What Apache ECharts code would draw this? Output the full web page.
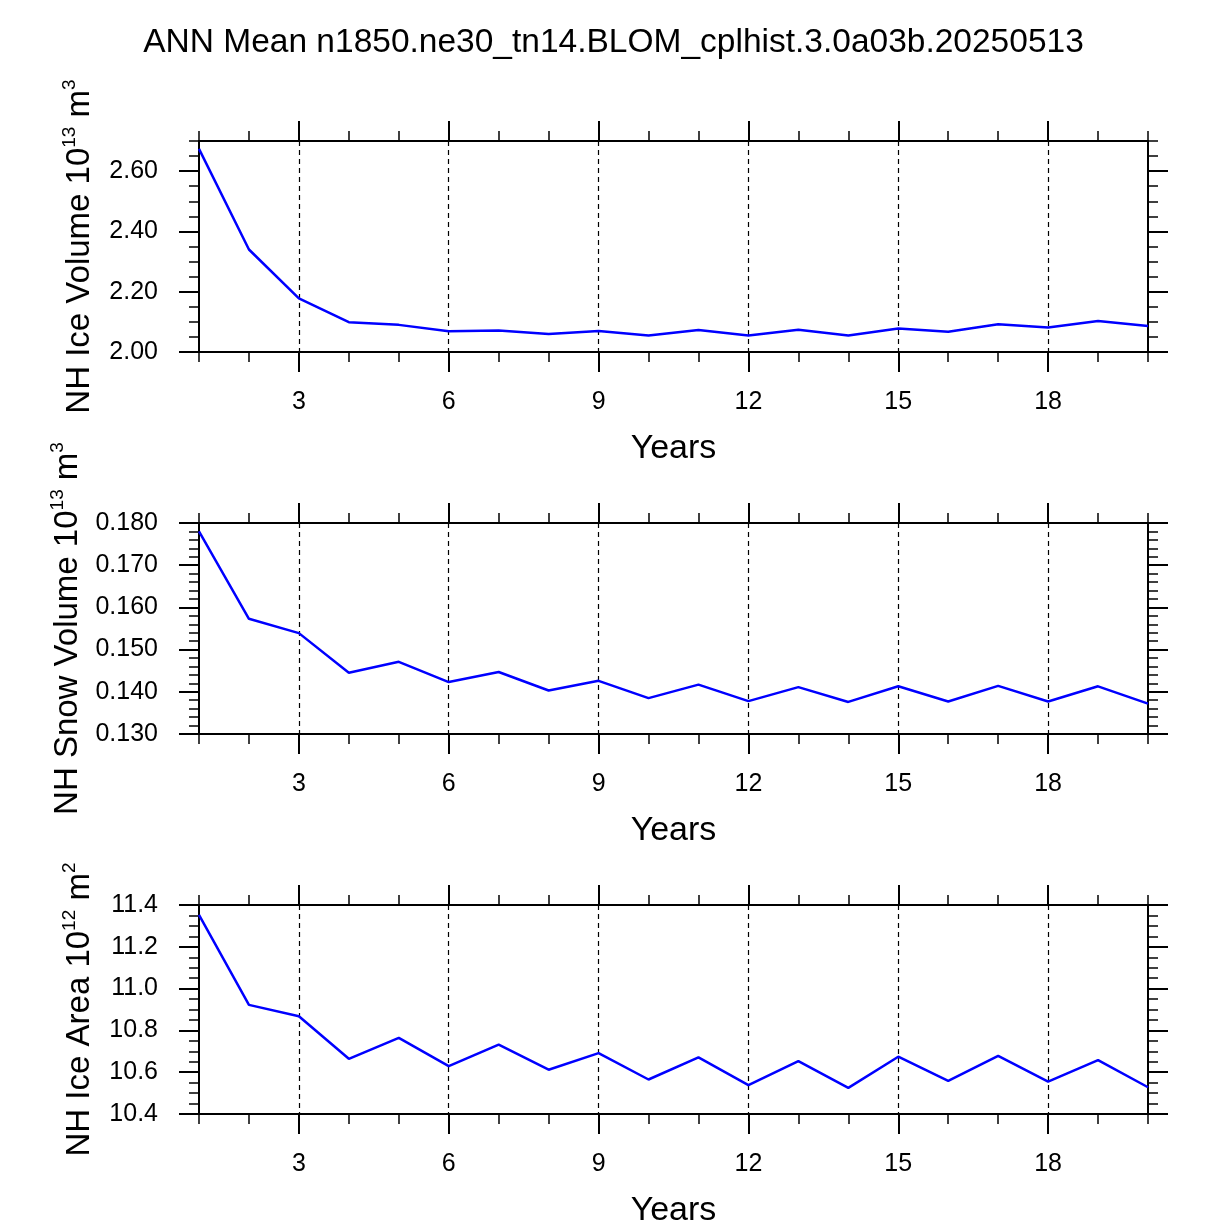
<!DOCTYPE html>
<html><head><meta charset="utf-8">
<script src="https://cdn.jsdelivr.net/npm/echarts@6/dist/echarts.min.js"></script>
<style>html,body{margin:0;padding:0;background:#fff}#c{width:1227px;height:1229px}</style>
</head><body><div id="c"></div><script>
const years = [1,2,3,4,5,6,7,8,9,10,11,12,13,14,15,16,17,18,19,20];
const iceVolume = [2.674,2.340,2.178,2.099,2.090,2.069,2.071,2.060,2.070,2.055,2.073,2.055,2.074,2.055,2.078,2.067,2.092,2.081,2.103,2.086];
const snowVolume = [0.1780,0.1573,0.1539,0.1445,0.1471,0.1423,0.1447,0.1403,0.1426,0.1385,0.1417,0.1378,0.1411,0.1376,0.1413,0.1377,0.1414,0.1377,0.1413,0.1372];
const iceArea = [11.353,10.922,10.868,10.664,10.764,10.629,10.732,10.612,10.691,10.565,10.671,10.538,10.653,10.525,10.674,10.558,10.678,10.555,10.658,10.528];
const xMajorTicks = [3,6,9,12,15,18];
const iceVolumeTicks = [2.0,2.2,2.4,2.6];
const snowVolumeTicks = [0.13,0.14,0.15,0.16,0.17,0.18];
const iceAreaTicks = [10.4,10.6,10.8,11.0,11.2,11.4];
const titleText = 'ANN Mean n1850.ne30_tn14.BLOM_cplhist.3.0a03b.20250513';

const FF = 'Liberation Sans';
const panels = [
  {data: iceVolume, min: 2.0, max: 2.7, majors: iceVolumeTicks, minor: 0.05, digits: 2,
   name: '{a|NH Ice Volume 10}{s|13}{a| m}{s|3}', top: 141, nameGap: 103},
  {data: snowVolume, min: 0.13, max: 0.18, majors: snowVolumeTicks, minor: 0.002, digits: 3,
   name: '{a|NH Snow Volume 10}{s|13}{a| m}{s|3}', top: 523, nameGap: 115},
  {data: iceArea, min: 10.4, max: 11.4, majors: iceAreaTicks, minor: 0.05, digits: 1,
   name: '{a|NH Ice Area 10}{s|12}{a| m}{s|2}', top: 905, nameGap: 103}
];

const black = '#000';
const grids = [], xAxes = [], yAxes = [], series = [];
panels.forEach((p, gi) => {
  grids.push({left: 199, width: 949, top: p.top, height: 211, containLabel: false});
  const xBase = {gridIndex: gi, type: 'value', min: 1, max: 20, splitLine: {show: false}};
  xAxes.push(Object.assign({}, xBase, {
    position: 'bottom',
    axisLine: {show: true, onZero: false, lineStyle: {color: black, width: 2}},
    axisTick: {show: true, inside: false, length: 20, customValues: xMajorTicks, lineStyle: {color: black, width: 2}},
    axisLabel: {show: true, customValues: xMajorTicks, margin: 38, fontSize: 25, color: black, fontFamily: FF},
    splitLine: {show: true, lineStyle: {color: black, width: 1.2, type: [5, 4]}},
    name: 'Years', nameLocation: 'middle', nameGap: 80,
    nameTextStyle: {fontSize: 34, color: black, fontFamily: FF}
  }));
  xAxes.push(Object.assign({}, xBase, {
    position: 'bottom', interval: 1,
    axisLine: {show: false, onZero: false},
    axisTick: {show: true, inside: false, length: 10, lineStyle: {color: black, width: 1.5}},
    axisLabel: {show: false}
  }));
  xAxes.push(Object.assign({}, xBase, {
    position: 'top',
    axisLine: {show: true, onZero: false, lineStyle: {color: black, width: 2}},
    axisTick: {show: true, inside: false, length: 20, customValues: xMajorTicks, lineStyle: {color: black, width: 2}},
    axisLabel: {show: false}
  }));
  xAxes.push(Object.assign({}, xBase, {
    position: 'top', interval: 1,
    axisLine: {show: false, onZero: false},
    axisTick: {show: true, inside: false, length: 10, lineStyle: {color: black, width: 1.5}},
    axisLabel: {show: false}
  }));

  const yBase = {gridIndex: gi, type: 'value', min: p.min, max: p.max, splitLine: {show: false}};
  yAxes.push(Object.assign({}, yBase, {
    position: 'left',
    axisLine: {show: true, onZero: false, lineStyle: {color: black, width: 2}},
    axisTick: {show: true, inside: false, length: 20, customValues: p.majors, lineStyle: {color: black, width: 2}},
    axisLabel: {show: true, customValues: p.majors, margin: 41, fontSize: 25, color: black, fontFamily: FF,
      formatter: v => Number(v).toFixed(p.digits)},
    name: p.name, nameLocation: 'middle', nameRotate: 90, nameGap: p.nameGap,
    nameTextStyle: {color: black, fontFamily: FF, rich: {
      a: {fontSize: 33, color: black, fontFamily: FF, lineHeight: 36, verticalAlign: 'bottom'},
      s: {fontSize: 19, color: black, fontFamily: FF, lineHeight: 36, verticalAlign: 'top'}
    }}
  }));
  yAxes.push(Object.assign({}, yBase, {
    position: 'left', interval: p.minor,
    axisLine: {show: false, onZero: false},
    axisTick: {show: true, inside: false, length: 10, lineStyle: {color: black, width: 1.5}},
    axisLabel: {show: false}
  }));
  yAxes.push(Object.assign({}, yBase, {
    position: 'right',
    axisLine: {show: true, onZero: false, lineStyle: {color: black, width: 2}},
    axisTick: {show: true, inside: false, length: 20, customValues: p.majors, lineStyle: {color: black, width: 2}},
    axisLabel: {show: false}
  }));
  yAxes.push(Object.assign({}, yBase, {
    position: 'right', interval: p.minor,
    axisLine: {show: false, onZero: false},
    axisTick: {show: true, inside: false, length: 10, lineStyle: {color: black, width: 1.5}},
    axisLabel: {show: false}
  }));

  series.push({
    type: 'line', xAxisIndex: gi * 4, yAxisIndex: gi * 4,
    data: years.map((yr, i) => [yr, p.data[i]]),
    showSymbol: false, symbol: 'none',
    lineStyle: {color: '#0000ff', width: 2.5}, itemStyle: {color: '#0000ff'},
    clip: true, animation: false
  });
});

const chart = echarts.init(document.getElementById('c'), null, {renderer: 'canvas'});
chart.setOption({
  backgroundColor: '#fff',
  animation: false,
  title: {text: titleText, left: 'center', top: 21, textStyle: {fontSize: 33.5, fontWeight: 'normal', color: black, fontFamily: FF}},
  grid: grids, xAxis: xAxes, yAxis: yAxes, series: series
});
</script></body></html>
